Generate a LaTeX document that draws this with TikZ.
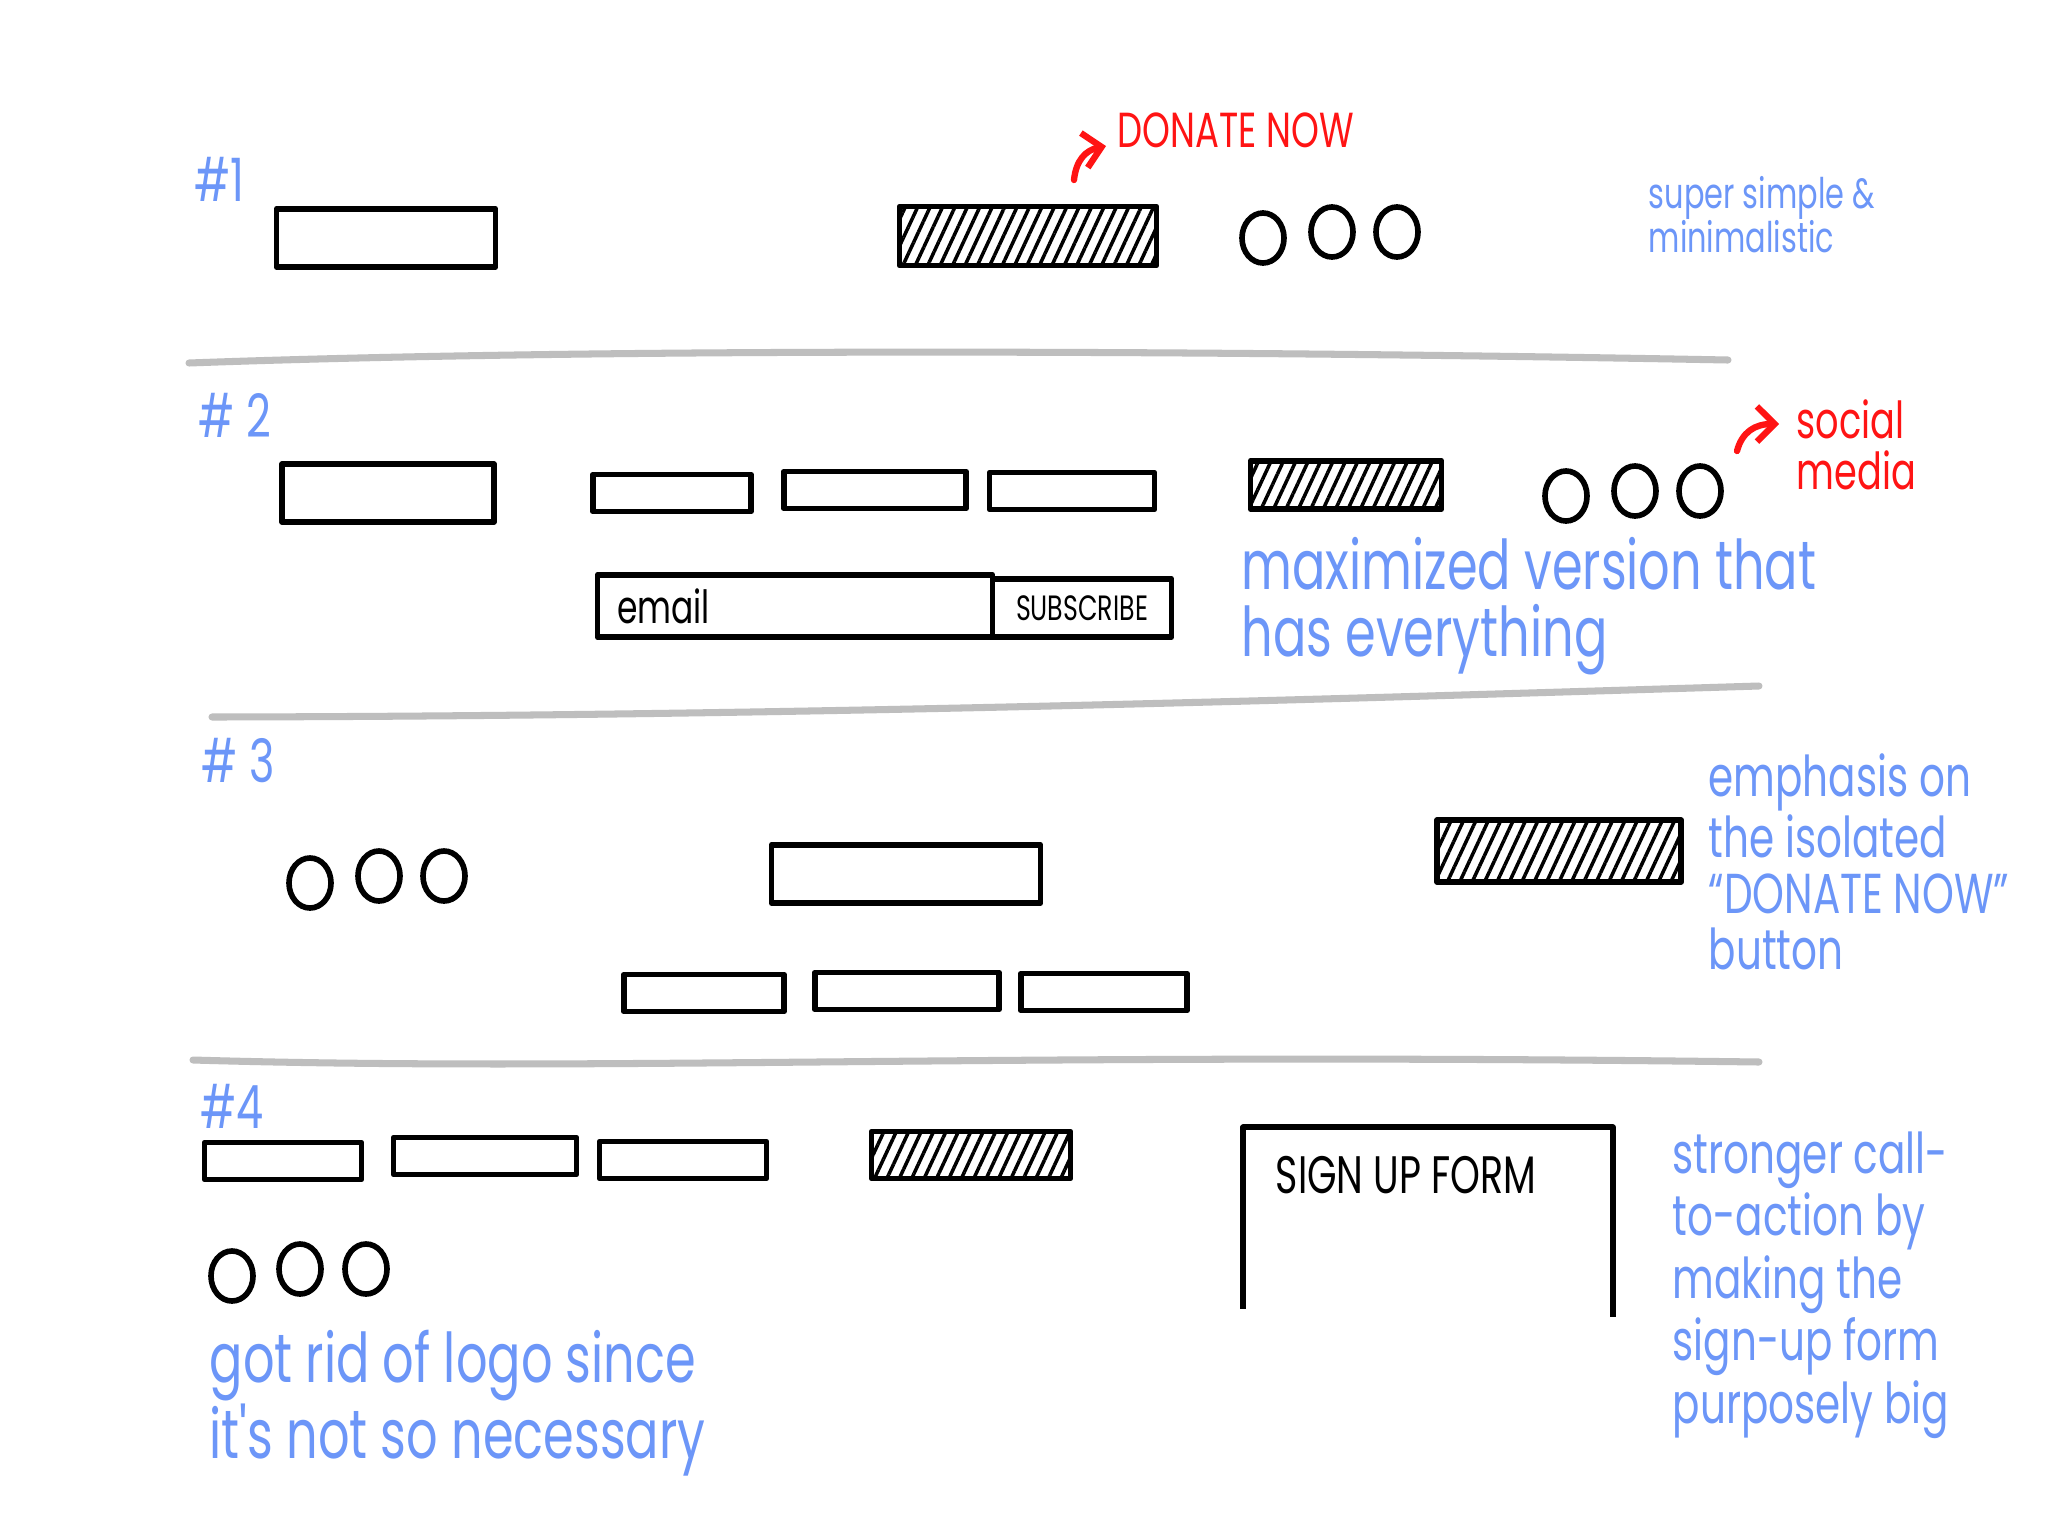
\documentclass[tikz,border=0pt]{standalone}
\usepackage{fontspec}
\newfontfamily\hand[FakeStretch=0.72]{Poppins}
\usetikzlibrary{shapes.geometric, patterns.meta, arrows.meta}
\definecolor{noteblue}{RGB}{108,150,248}
\definecolor{markred}{RGB}{255,20,20}
\definecolor{rulegray}{RGB}{190,190,190}

\begin{document}
\begin{tikzpicture}[x=0.01cm, y=-0.01cm,
        box/.style={draw, line width=1.6pt, line join=round, inner sep=0pt},
        logobox/.style={box, minimum height=0.58cm},
        navbox/.style={box, minimum height=0.37cm},
        donatebox/.style={box, pattern={Lines[angle=65, distance=3.2pt, line width=1pt]}},
        dot/.style={draw, ellipse, line width=1.6pt, inner sep=0pt,
                    minimum width=0.42cm, minimum height=0.5cm},
        num/.style={text=noteblue, font=\hand\fontsize{17}{17}\selectfont, inner sep=0pt},
        note/.style={text=noteblue, anchor=west, align=left, inner sep=0pt},
        redtxt/.style={text=markred, anchor=west, align=left, inner sep=0pt},
        inktxt/.style={anchor=west, inner sep=0pt},
        redarrow/.style={markred, line width=1.8pt, line cap=round, -{Straight Barb[length=5pt]}},
        divider/.style={rulegray, line width=2pt, line cap=round}
    ]
    \fill[white] (0,0) rectangle (2048,1536);
    \useasboundingbox (0,0) rectangle (2048,1536);

    % #1 : simple header
    \node[num] (numA) at (219,179) {\#1};
    \node[logobox, minimum width=2.19cm] (logoA) at (386,238) {};
    \node[donatebox, minimum width=2.57cm, minimum height=0.59cm] (donateA) at (1028,236) {};
    \foreach \i/\x/\y in {1/1263/238, 2/1332/232, 3/1397/232}
        \node[dot] (dotA\i) at (\x,\y) {};
    \node[redtxt, font=\hand\fontsize{14}{14}\selectfont] (donateTxt) at (1117,130) {DONATE NOW};
    \coordinate (arrA) at (1074,180);
    \draw[redarrow] (arrA) .. controls (1076,160) and (1086,150) .. ([xshift=-0.11cm, yshift=-0.16cm]donateTxt.west);
    \node[note, font=\hand\fontsize{12}{12.5}\selectfont] (noteA) at (1648,215) {super simple \&\\minimalistic};

    \draw[divider] (189,363) .. controls (600,348) and (1200,350) .. (1728,360);

    % #2 : everything
    \node[num] (numB) at (235,415) {\# 2};
    \node[logobox, minimum width=2.12cm] (logoB) at (388,493) {};
    \foreach \i/\x/\y/\w in {1/672/493/1.58, 2/875/490/1.82, 3/1072/491/1.65}
        \node[navbox, minimum width=\w cm] (navB\i) at (\x,\y) {};
    \node[donatebox, minimum width=1.91cm, minimum height=0.48cm] (donateB) at (1346,485) {};
    \foreach \i/\x/\y in {1/1566/496, 2/1635/491, 3/1700/491}
        \node[dot] (dotB\i) at (\x,\y) {};
    \node[redtxt, font=\hand\fontsize{14.5}{14.5}\selectfont] (socialTxt) at (1796,445) {social\\media};
    \coordinate (arrB) at (1737,451);
    \draw[redarrow] (arrB) .. controls (1742,432) and (1755,424) .. ([xshift=-0.17cm, yshift=0.21cm]socialTxt.west);
    \node[box, minimum width=3.95cm, minimum height=0.62cm] (emailB) at (795,606) {};
    \node[box, minimum width=1.79cm, minimum height=0.58cm] (subB) at (1082,608) {};
    \node[inktxt, font=\hand\fontsize{13}{13}\selectfont] (emailTxt) at ([xshift=0.22cm]emailB.west) {email};
    \node[font=\hand\fontsize{10}{10}\selectfont, inner sep=0pt] (subTxt) at (subB) {SUBSCRIBE};
    \node[note, font=\hand\fontsize{19.5}{19}\selectfont] (noteB) at (1241,606) {maximized version that\\has everything};

    \draw[divider] (212,717) .. controls (800,716) and (1300,700) .. (1759,686);

    % #3 : isolated donate button
    \node[num] (numC) at (238,761) {\# 3};
    \foreach \i/\x/\y in {1/310/883, 2/379/876, 3/444/876}
        \node[dot] (dotC\i) at (\x,\y) {};
    \node[logobox, minimum width=2.69cm] (logoC) at (906,874) {};
    \node[donatebox, minimum width=2.44cm, minimum height=0.62cm] (donateC) at (1559,851) {};
    \foreach \i/\x/\y/\w in {1/704/993/1.60, 2/907/991/1.84, 3/1104/992/1.66}
        \node[navbox, minimum width=\w cm] (navC\i) at (\x,\y) {};
    \node[note, font=\hand\fontsize{16}{16}\selectfont] (noteC) at (1708,862) {emphasis on\\the isolated\\“DONATE NOW”\\button};

    \draw[divider] (193,1060) .. controls (600,1072) and (1000,1052) .. (1759,1062);

    % #4 : big sign-up form
    \node[num] (numD) at (232,1106) {\#4};
    \foreach \i/\x/\y/\w in {1/283/1161/1.57, 2/485/1156/1.83, 3/683/1160/1.67}
        \node[navbox, minimum width=\w cm] (navD\i) at (\x,\y) {};
    \node[donatebox, minimum width=1.99cm, minimum height=0.47cm] (donateD) at (971,1155) {};
    \foreach \i/\x/\y in {1/232/1276, 2/300/1269, 3/366/1269}
        \node[dot] (dotD\i) at (\x,\y) {};
    \node[minimum width=3.68cm, minimum height=1.8cm, inner sep=0pt] (formD) at (1428,1218) {};
    \draw[box] (formD.south west) -- (formD.north west) -- (formD.north east) -- ([yshift=-0.08cm]formD.south east);
    \node[inktxt, font=\hand\fontsize{15}{15}\selectfont] (formTxt) at (1275,1175) {SIGN UP FORM};
    \node[note, font=\hand\fontsize{19.5}{17.3}\selectfont] (noteE) at (209,1403) {got rid of logo since\\it's not so necessary};
    \node[note, font=\hand\fontsize{16}{17.8}\selectfont] (noteD) at (1672,1285) {stronger call-\\to-action by\\making the\\sign-up form\\purposely big};
\end{tikzpicture}
\end{document}
